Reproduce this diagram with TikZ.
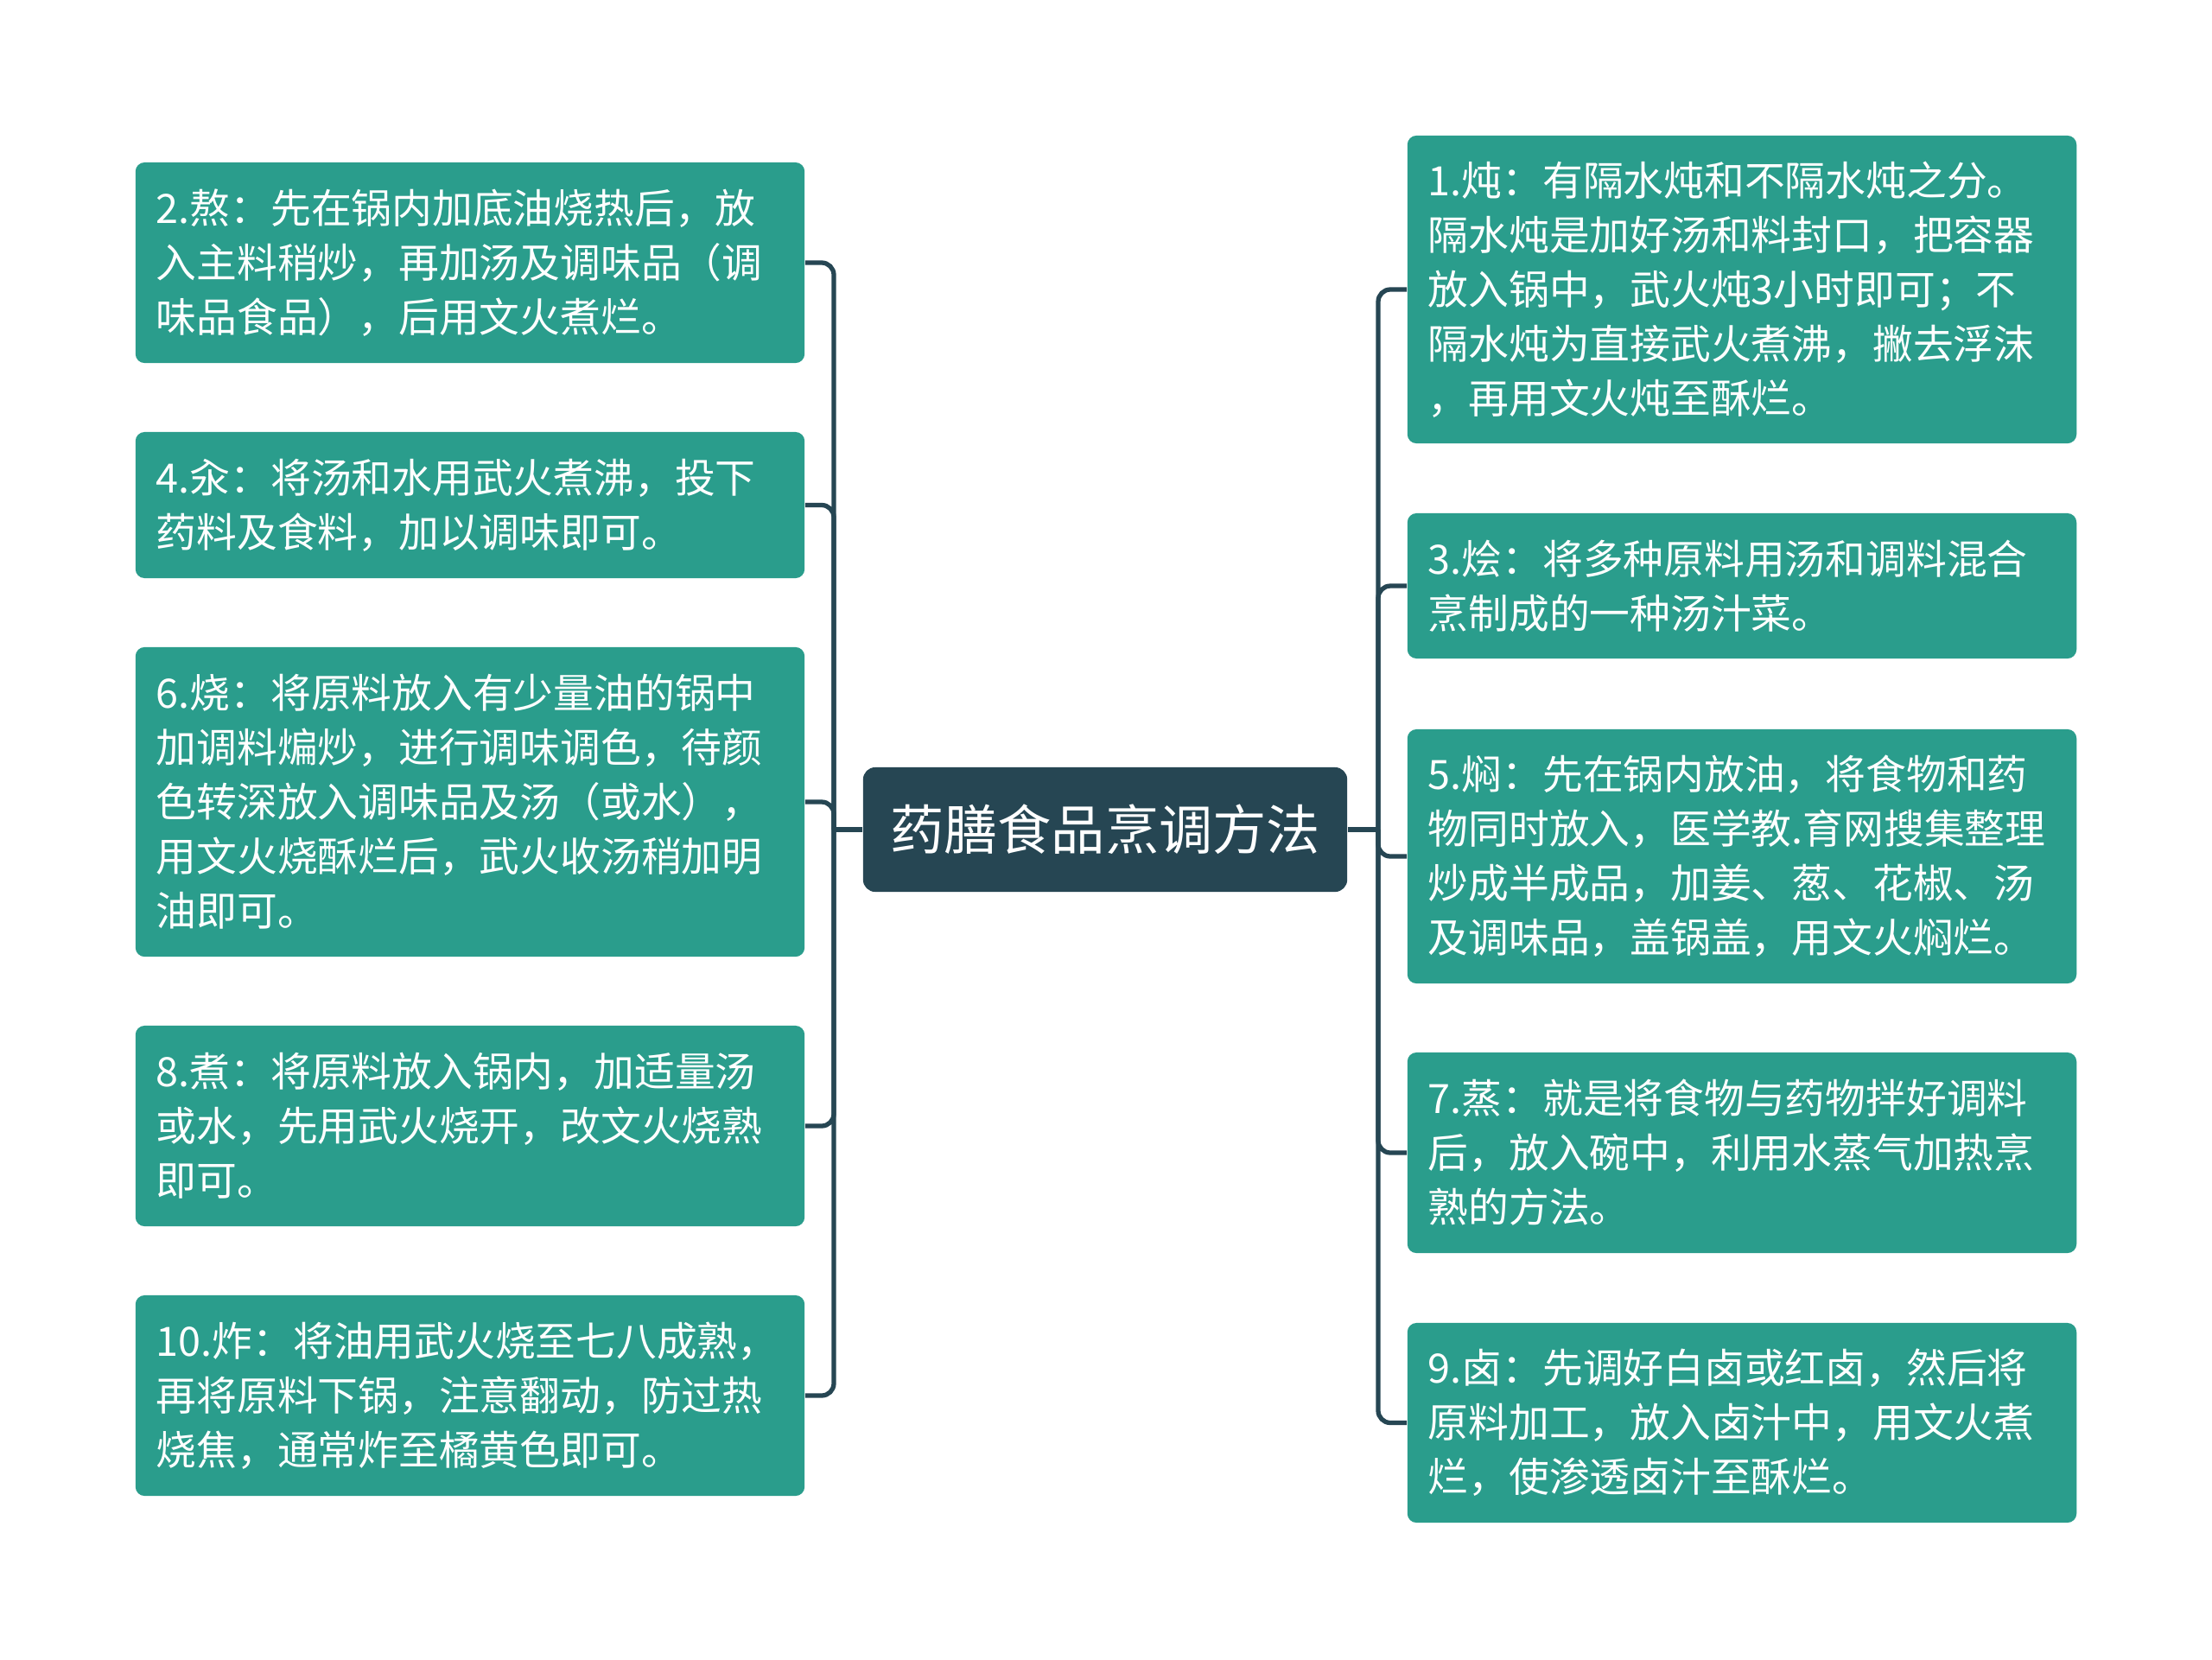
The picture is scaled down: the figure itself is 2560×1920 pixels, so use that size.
\documentclass[tikz,border=0pt]{standalone}
\usepackage{fontspec}
\setmainfont{Noto Sans CJK SC}
\definecolor{leaf}{HTML}{2A9D8C}
\definecolor{rootc}{HTML}{264653}
\definecolor{linec}{HTML}{264653}
\begin{document}
\begin{tikzpicture}[x=0.01cm,y=-0.01cm,
  leafbox/.style={fill=leaf, rounded corners=3pt, text=white, align=left,
    text width=7.26cm, inner xsep=0.24cm, inner ysep=0pt,
    minimum width=7.74cm, font=\fontsize{13.3}{17.9}\selectfont},
  rootbox/.style={fill=rootc, rounded corners=4pt, text=white,
    minimum width=5.6cm, minimum height=1.44cm, inner sep=0pt,
    font=\fontsize{17.7}{20}\selectfont},
  conn/.style={draw=linec, line width=1.5pt, rounded corners=4pt}]
\fill[white] (0,0) rectangle (2560,1920);

\node[rootbox] (root) at (1279,960) {药膳食品烹调方法};

% left
\node[leafbox, minimum height=2.32cm] (b2) at (544,304) {2.熬：先在锅内加底油烧热后，放\\入主料稍炒，再加汤及调味品（调\\味品食品），后用文火煮烂。};
\node[leafbox, minimum height=1.69cm] (b4) at (544,584.5) {4.汆：将汤和水用武火煮沸，投下\\药料及食料，加以调味即可。};
\node[leafbox, minimum height=3.58cm] (b6) at (544,928) {6.烧：将原料放入有少量油的锅中\\加调料煸炒，进行调味调色，待颜\\色转深放入调味品及汤（或水），\\用文火烧酥烂后，武火收汤稍加明\\油即可。};
\node[leafbox, minimum height=2.32cm] (b8) at (544,1303) {8.煮：将原料放入锅内，加适量汤\\或水，先用武火烧开，改文火烧熟\\即可。};
\node[leafbox, minimum height=2.32cm] (b10) at (544,1615) {10.炸：将油用武火烧至七八成熟，\\再将原料下锅，注意翻动，防过热\\烧焦，通常炸至橘黄色即可。};

% right
\node[leafbox, minimum height=3.56cm] (b1) at (2016,335) {1.炖：有隔水炖和不隔水炖之分。\\隔水炖是加好汤和料封口，把容器\\放入锅中，武火炖3小时即可；不\\隔水炖为直接武火煮沸，撇去浮沫\\，再用文火炖至酥烂。};
\node[leafbox, minimum height=1.68cm] (b3) at (2016,678) {3.烩：将多种原料用汤和调料混合\\烹制成的一种汤汁菜。};
\node[leafbox, minimum height=2.94cm] (b5) at (2016,991) {5.焖：先在锅内放油，将食物和药\\物同时放入，医学教.育网搜集整理\\炒成半成品，加姜、葱、花椒、汤\\及调味品，盖锅盖，用文火焖烂。};
\node[leafbox, minimum height=2.32cm] (b7) at (2016,1334) {7.蒸：就是将食物与药物拌好调料\\后，放入碗中，利用水蒸气加热烹\\熟的方法。};
\node[leafbox, minimum height=2.31cm] (b9) at (2016,1646.5) {9.卤：先调好白卤或红卤，然后将\\原料加工，放入卤汁中，用文火煮\\烂，使渗透卤汁至酥烂。};

\coordinate (L) at (965,960);
\coordinate (R) at (1595,960);
\draw[conn] (root.west) -- (L);
\draw[conn] (root.east) -- (R);
\foreach \b in {b2,b4,b6,b8,b10} { \draw[conn] (\b.east) -| (L); }
\foreach \b in {b1,b3,b5,b7,b9} { \draw[conn] (\b.west) -| (R); }
\end{tikzpicture}
\end{document}
